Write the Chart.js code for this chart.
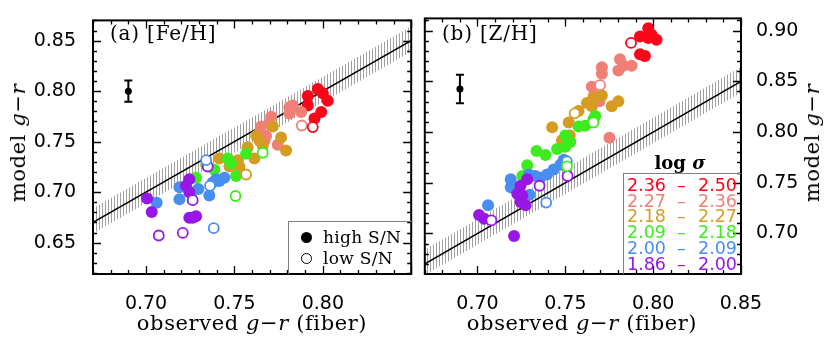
<!DOCTYPE html>
<html>
<head>
<meta charset="utf-8">
<script src="https://cdn.jsdelivr.net/npm/chart.js@4/dist/chart.umd.min.js"></script>
<style>
  body { margin: 0; background: #fff; width: 830px; height: 347px; position: relative; overflow: hidden; }
  .wrap { position: absolute; top: 0; }
  .txt { position: absolute; font-family: 'DejaVu Serif', serif; color: #000; white-space: nowrap; line-height: 24px; }
  .panel { font-size: 20px; letter-spacing: 0.8px; }
  .xt { font-size: 21px; letter-spacing: 0.6px; transform: translateX(-50%); }
  .yt { font-size: 21px; letter-spacing: 0.6px; transform: translate(-50%, -50%) rotate(-90deg); }
  .box { position: absolute; box-sizing: border-box; border-left: 1.5px solid #808080; border-top: 1.5px solid #808080; }
  .dot { position: absolute; width: 11px; height: 11px; border-radius: 50%; box-sizing: border-box; }
  .sn { position: absolute; font-family: 'DejaVu Serif', serif; font-size: 17px; line-height: 18px; letter-spacing: 0.3px; }
  .row { position: absolute; font-family: 'DejaVu Sans', sans-serif; font-size: 17.5px; line-height: 16px; }
</style>
</head>
<body>
<div class="wrap" style="left:0"><canvas id="feChart" width="418" height="347"></canvas></div>
<div class="wrap" style="left:418px"><canvas id="zhChart" width="412" height="347"></canvas></div>

<div class="txt panel" style="left:110px; top:21px">(a) [Fe/H]</div>
<div class="txt panel" style="left:442px; top:21px">(b) [Z/H]</div>
<div class="txt xt" style="left:252px; top:311px">observed <i>g</i>−<i>r</i> (fiber)</div>
<div class="txt xt" style="left:582px; top:311px">observed <i>g</i>−<i>r</i> (fiber)</div>
<div class="txt yt" style="left:18px; top:143px">model <i>g</i>−<i>r</i></div>
<div class="txt yt" style="left:812px; top:143px">model <i>g</i>−<i>r</i></div>

<div class="box" style="left:288px; top:221px; width:125px; height:53px">
  <div class="dot" style="left:12px; top:10px; background:#000"></div>
  <div class="sn" style="left:34px; top:6px">high S/N</div>
  <div class="dot" style="left:12px; top:31px; border:1.6px solid #000"></div>
  <div class="sn" style="left:34px; top:27px">low S/N</div>
</div>

<div class="txt" style="left:680px; top:151px; transform:translateX(-50%); font-size:18px; font-weight:bold">log <i>σ</i></div>
<div class="box" id="sigBox" style="left:623px; top:173px; width:118px; height:101px"></div>

<script>
// sigma bins (log sigma), top to bottom in legend
const binLo = ['2.36', '2.27', '2.18', '2.09', '2.00', '1.86'];
const binHi = ['2.50', '2.36', '2.27', '2.18', '2.09', '2.00'];
const binColors = ['rgb(250,5,25)', 'rgb(240,128,118)', 'rgb(214,156,34)', 'rgb(60,236,30)', 'rgb(72,142,240)', 'rgb(152,22,230)'];

// axis ticks
const xTicksFe = [0.70, 0.75, 0.80];
const yTicksFe = [0.65, 0.70, 0.75, 0.80, 0.85];
const xTicksZh = [0.70, 0.75, 0.80, 0.85];
const yTicksZh = [0.70, 0.75, 0.80, 0.85, 0.90];

// 1:1 relation and its hatched band
const oneToOne = [0.66, 0.86];
const bandUp = 0.014, bandDn = 0.011;

// (a) [Fe/H] - high S/N
const feRedHi = [[0.7915,0.7952],[0.7972,0.8022],[0.8000,0.7978],[0.8028,0.7905],[0.7915,0.7857],[0.7991,0.7794],[0.7953,0.7730]];
const feSalmonHi = [[0.7708,0.7746],[0.7698,0.7683],[0.7651,0.7651],[0.7642,0.7587],[0.7679,0.7556],[0.7670,0.7508],[0.7745,0.7470],[0.7811,0.7841],[0.7830,0.7857],[0.7811,0.7778],[0.7877,0.7794]];
const feGoldHi = [[0.7415,0.7333],[0.7472,0.7254],[0.7519,0.7317],[0.7528,0.7254],[0.7575,0.7444],[0.7613,0.7333],[0.7623,0.7556],[0.7642,0.7508],[0.7764,0.7540],[0.7792,0.7413],[0.7717,0.7651],[0.7660,0.7460]];
const feGreenHi = [[0.7283,0.7143],[0.7260,0.7000],[0.7340,0.7270],[0.7387,0.7222],[0.7462,0.7333],[0.7509,0.7159],[0.7566,0.7381],[0.7481,0.7286]];
const feBlueHi = [[0.7060,0.6895],[0.7189,0.7048],[0.7189,0.6930],[0.7296,0.7032],[0.7358,0.6968],[0.7396,0.7127],[0.7443,0.7143],[0.7415,0.7111],[0.7377,0.7095]];
const fePurpleHi = [[0.7006,0.6937],[0.7032,0.6803],[0.7245,0.7127],[0.7226,0.7063],[0.7245,0.7000],[0.7245,0.6746],[0.7283,0.6762],[0.7264,0.6746]];
// (a) [Fe/H] - low S/N
const feRedLo = [[0.7943,0.7644]];
const feSalmonLo = [[0.7881,0.7660]];
const feGoldLo = [[0.7566,0.7175]];
const feGreenLo = [[0.7506,0.6962],[0.7660,0.7390]];
const feBlueLo = [[0.7383,0.6644],[0.7362,0.7063],[0.7340,0.7317]];
const fePurpleLo = [[0.7072,0.6571],[0.7208,0.6597],[0.7264,0.6921],[0.7349,0.7254]];
const feErr = [0.690, 0.800, 0.0105]; // x, y, +-

// (b) [Z/H] - high S/N
const zhRedHi = [[0.7925,0.8942],[0.7972,0.9022],[0.8019,0.8910],[0.7972,0.8926],[0.7925,0.8766],[0.7953,0.8750],[0.7991,0.8958]];
const zhSalmonHi = [[0.7651,0.8446],[0.7664,0.8366],[0.7694,0.8302],[0.7708,0.8638],[0.7708,0.8574],[0.7811,0.8718],[0.7830,0.8654],[0.7802,0.8606],[0.7877,0.8654],[0.7751,0.7944]];
const zhGoldHi = [[0.7425,0.8046],[0.7519,0.8094],[0.7481,0.7918],[0.7525,0.7966],[0.7575,0.8206],[0.7623,0.8286],[0.7660,0.8341],[0.7708,0.8360],[0.7764,0.8254],[0.7802,0.8302],[0.7651,0.8254]];
const zhGreenHi = [[0.7255,0.7566],[0.7283,0.7672],[0.7336,0.7813],[0.7387,0.7774],[0.7453,0.7832],[0.7500,0.7854],[0.7528,0.7902],[0.7500,0.7966],[0.7575,0.8053],[0.7613,0.8062],[0.7660,0.8126],[0.7670,0.8158]];
const zhBlueHi = [[0.7060,0.7278],[0.7189,0.7534],[0.7189,0.7454],[0.7296,0.7381],[0.7292,0.7582],[0.7358,0.7550],[0.7396,0.7582],[0.7434,0.7630],[0.7472,0.7678],[0.7491,0.7726],[0.7330,0.7566]];
const zhPurpleHi = [[0.7009,0.7182],[0.7038,0.7144],[0.7208,0.6974],[0.7245,0.7470],[0.7226,0.7390],[0.7245,0.7310],[0.7274,0.7278],[0.7283,0.7534],[0.7255,0.7374]];
// (b) [Z/H] - low S/N
const zhRedLo = [[0.7874,0.8878]];
const zhSalmonLo = [[0.7698,0.8462]];
const zhGoldLo = [[0.7553,0.8184]];
const zhGreenLo = [[0.7509,0.7662],[0.7660,0.8094]];
const zhBlueLo = [[0.7391,0.7304],[0.7509,0.7710]];
const zhPurpleLo = [[0.7079,0.7128],[0.7353,0.7470],[0.7513,0.7566]];
const zhErr = [0.690, 0.8424, 0.014];

// legend rows for log sigma
const sigBox = document.getElementById('sigBox');
binLo.forEach((lo, i) => {
    const top = 3 + i * 15.7;
    [[3, lo], [53, '–'], [74, binHi[i]]].forEach(([left, s]) => {
        const d = document.createElement('div');
        d.className = 'row';
        d.style.cssText = `left:${left}px; top:${top}px; color:${binColors[i]}`;
        d.textContent = s;
        sigBox.appendChild(d);
    });
});

// vertical hatch for the 1:1 band
function hatchPattern() {
    const c = document.createElement('canvas');
    c.width = 3; c.height = 4;
    const g = c.getContext('2d');
    g.fillStyle = '#a0a0a0';
    g.fillRect(0, 0, 1, 4);
    return g.createPattern(c, 'repeat');
}

function steps(a, b, s) {
    const out = [];
    for (let v = a; v <= b + 1e-9; v += s) out.push(+v.toFixed(3));
    return out;
}

// frame + inward ticks on all four sides
const frameTicks = {
    id: 'frameTicks',
    afterDatasetsDraw(chart, args, opts) {
        const { ctx, chartArea: a, scales: { x, y } } = chart;
        ctx.save();
        ctx.strokeStyle = '#000';
        ctx.lineWidth = 1.3;
        ctx.beginPath();
        steps(0.67, 0.85, 0.01).forEach(v => {
            const px = Math.round(x.getPixelForValue(v)) + 0.5;
            const len = Math.abs(v * 20 - Math.round(v * 20)) < 1e-6 ? 8 : 4;
            ctx.moveTo(px, a.bottom); ctx.lineTo(px, a.bottom - len);
            ctx.moveTo(px, a.top); ctx.lineTo(px, a.top + len);
        });
        steps(opts.yMin, opts.yMax, 0.01).forEach(v => {
            const py = Math.round(y.getPixelForValue(v)) + 0.5;
            if (py < a.top || py > a.bottom) return;
            const len = Math.abs(v * 20 - Math.round(v * 20)) < 1e-6 ? 8 : 4;
            ctx.moveTo(a.left, py); ctx.lineTo(a.left + len, py);
            ctx.moveTo(a.right, py); ctx.lineTo(a.right - len, py);
        });
        ctx.stroke();
        ctx.lineWidth = 2;
        ctx.strokeRect(a.left, a.top, a.right - a.left, a.bottom - a.top);
        ctx.restore();
    }
};

const toXY = pts => pts.map(([x, y]) => ({ x, y }));

function buildSets(hi, lo, err) {
    const hatch = hatchPattern();
    const sets = [
        { type: 'line', data: oneToOne.map(v => ({ x: v, y: v + bandUp })), borderWidth: 0, pointRadius: 0, fill: '+1', backgroundColor: hatch, order: 100 },
        { type: 'line', data: oneToOne.map(v => ({ x: v, y: v - bandDn })), borderWidth: 0, pointRadius: 0, fill: false, order: 100 },
        { type: 'line', data: oneToOne.map(v => ({ x: v, y: v })), borderColor: '#000', borderWidth: 1.5, pointRadius: 0, fill: false, order: 90 }
    ];
    hi.forEach((pts, i) => sets.push({
        data: toXY(pts), backgroundColor: binColors[i], borderWidth: 0, pointRadius: 6, order: 20 - i
    }));
    lo.forEach((pts, i) => sets.push({
        data: toXY(pts), backgroundColor: '#fff', borderColor: binColors[i], borderWidth: 1.8, pointRadius: 5, order: 2
    }));
    // error bar
    sets.push({
        type: 'line', data: [{ x: err[0], y: err[1] - err[2] }, { x: err[0], y: err[1] + err[2] }],
        borderColor: '#000', borderWidth: 2, pointStyle: 'line', pointRadius: 4, pointBorderWidth: 2,
        pointBorderColor: '#000', fill: false, order: 1
    });
    sets.push({ data: [{ x: err[0], y: err[1] }], backgroundColor: '#000', borderWidth: 0, pointRadius: 3.5, order: 0 });
    return sets;
}

function makeChart(id, hi, lo, err, xTicks, yTicks, yMin, yMax, side) {
    const right = side === 'right';
    new Chart(document.getElementById(id), {
        type: 'scatter',
        data: { datasets: buildSets(hi, lo, err) },
        options: {
            responsive: false,
            animation: false,
            events: [],
            layout: { padding: right ? { top: 12, left: 6 } : { top: 12, right: 5 } },
            plugins: {
                legend: { display: false },
                tooltip: { enabled: false },
                frameTicks: { yMin: Math.ceil(yMin * 100) / 100, yMax: yMax }
            },
            scales: {
                x: {
                    type: 'linear', min: 0.67, max: 0.85, position: 'bottom',
                    grid: { display: false }, border: { display: false },
                    afterBuildTicks: s => { s.ticks = xTicks.map(v => ({ value: v })); },
                    afterFit: s => { s.height = 73; },
                    ticks: { color: '#000', padding: 11, maxRotation: 0, font: { family: 'DejaVu Sans', size: 19 }, callback: v => v.toFixed(2) }
                },
                y: {
                    type: 'linear', min: yMin, max: yMax, position: side,
                    grid: { display: false }, border: { display: false },
                    afterBuildTicks: s => { s.ticks = yTicks.map(v => ({ value: v })); },
                    afterFit: s => { s.width = right ? 89 : 93; },
                    ticks: { color: '#000', padding: right ? 7 : 9, font: { family: 'DejaVu Sans', size: 19 }, callback: v => v.toFixed(2) }
                }
            }
        },
        plugins: [frameTicks]
    });
}

makeChart('feChart',
    [feRedHi, feSalmonHi, feGoldHi, feGreenHi, feBlueHi, fePurpleHi],
    [feRedLo, feSalmonLo, feGoldLo, feGreenLo, feBlueLo, fePurpleLo],
    feErr, xTicksFe, yTicksFe, 0.619, 0.870, 'left');

makeChart('zhChart',
    [zhRedHi, zhSalmonHi, zhGoldHi, zhGreenHi, zhBlueHi, zhPurpleHi],
    [zhRedLo, zhSalmonLo, zhGoldLo, zhGreenLo, zhBlueLo, zhPurpleLo],
    zhErr, xTicksZh, yTicksZh, 0.660, 0.912, 'right');
</script>
</body>
</html>
